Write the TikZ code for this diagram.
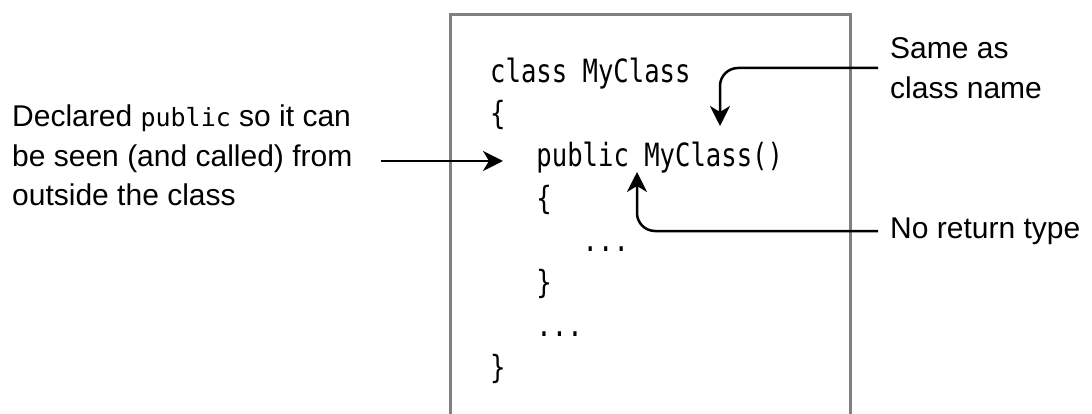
\documentclass[tikz,border=0pt]{standalone}
\usepackage{fontspec}
\setmainfont{Liberation Sans}
\newfontfamily\codefont[FakeStretch=0.8]{DejaVu Sans Mono}
\newfontfamily\inlinecode{DejaVu Sans Mono}
\usetikzlibrary{arrows.meta}

\begin{document}
\begin{tikzpicture}[x=1pt,y=-1pt,
  callout/.style={font=\fontsize{30}{39.5}\selectfont, inner sep=0pt, align=left},
  codetext/.style={font=\codefont\fontsize{32}{42.3}\selectfont, inner sep=0pt, align=left},
  pointer/.style={line width=2.5pt, -{Stealth[length=20pt,width=20pt,inset=6pt]},
                  rounded corners=18pt},
  frame/.style={draw=black!50, line width=3pt}]
  \useasboundingbox (0,0) rectangle (1092,414);
  \fill[white] (0,0) rectangle (1092,414);

  % listing frame (open at the bottom edge)
  \draw[frame] (450,15) rectangle (850,440);

  % the class listing
  \node[codetext, anchor=north west] (code) at (490,57.7) {%
    class MyClass\\
    \{\\
    \hphantom{xxx}public MyClass()\\
    \hphantom{xxx}\{\\
    \hphantom{xxxxxx}...\\
    \hphantom{xxx}\}\\
    \hphantom{xxx}...\\
    \}};

  % points the callouts refer to
  \coordinate (ctorName) at (720,126);
  \coordinate (noType)   at (637,172);
  \coordinate (ctorLine) at (503,161);

  % callouts
  \node[callout, anchor=north west] (decl) at (12,105)
    {Declared {\inlinecode\fontsize{25}{39.5}\selectfont public} so it can\\
     be seen (and called) from\\
     outside the class};
  \node[callout, inner xsep=12pt, anchor=west] (same) at (878,68)
    {Same as\\class name};
  \node[callout, inner xsep=12pt, anchor=west] (ret) at (878,231)
    {No return type};

  % connectors
  \draw[pointer, shorten <=28pt] (decl.east |- ctorLine) -- (ctorLine);
  \draw[pointer] (same.west) -| (ctorName);
  \draw[pointer] (ret.west) -| (noType);
\end{tikzpicture}
\end{document}
